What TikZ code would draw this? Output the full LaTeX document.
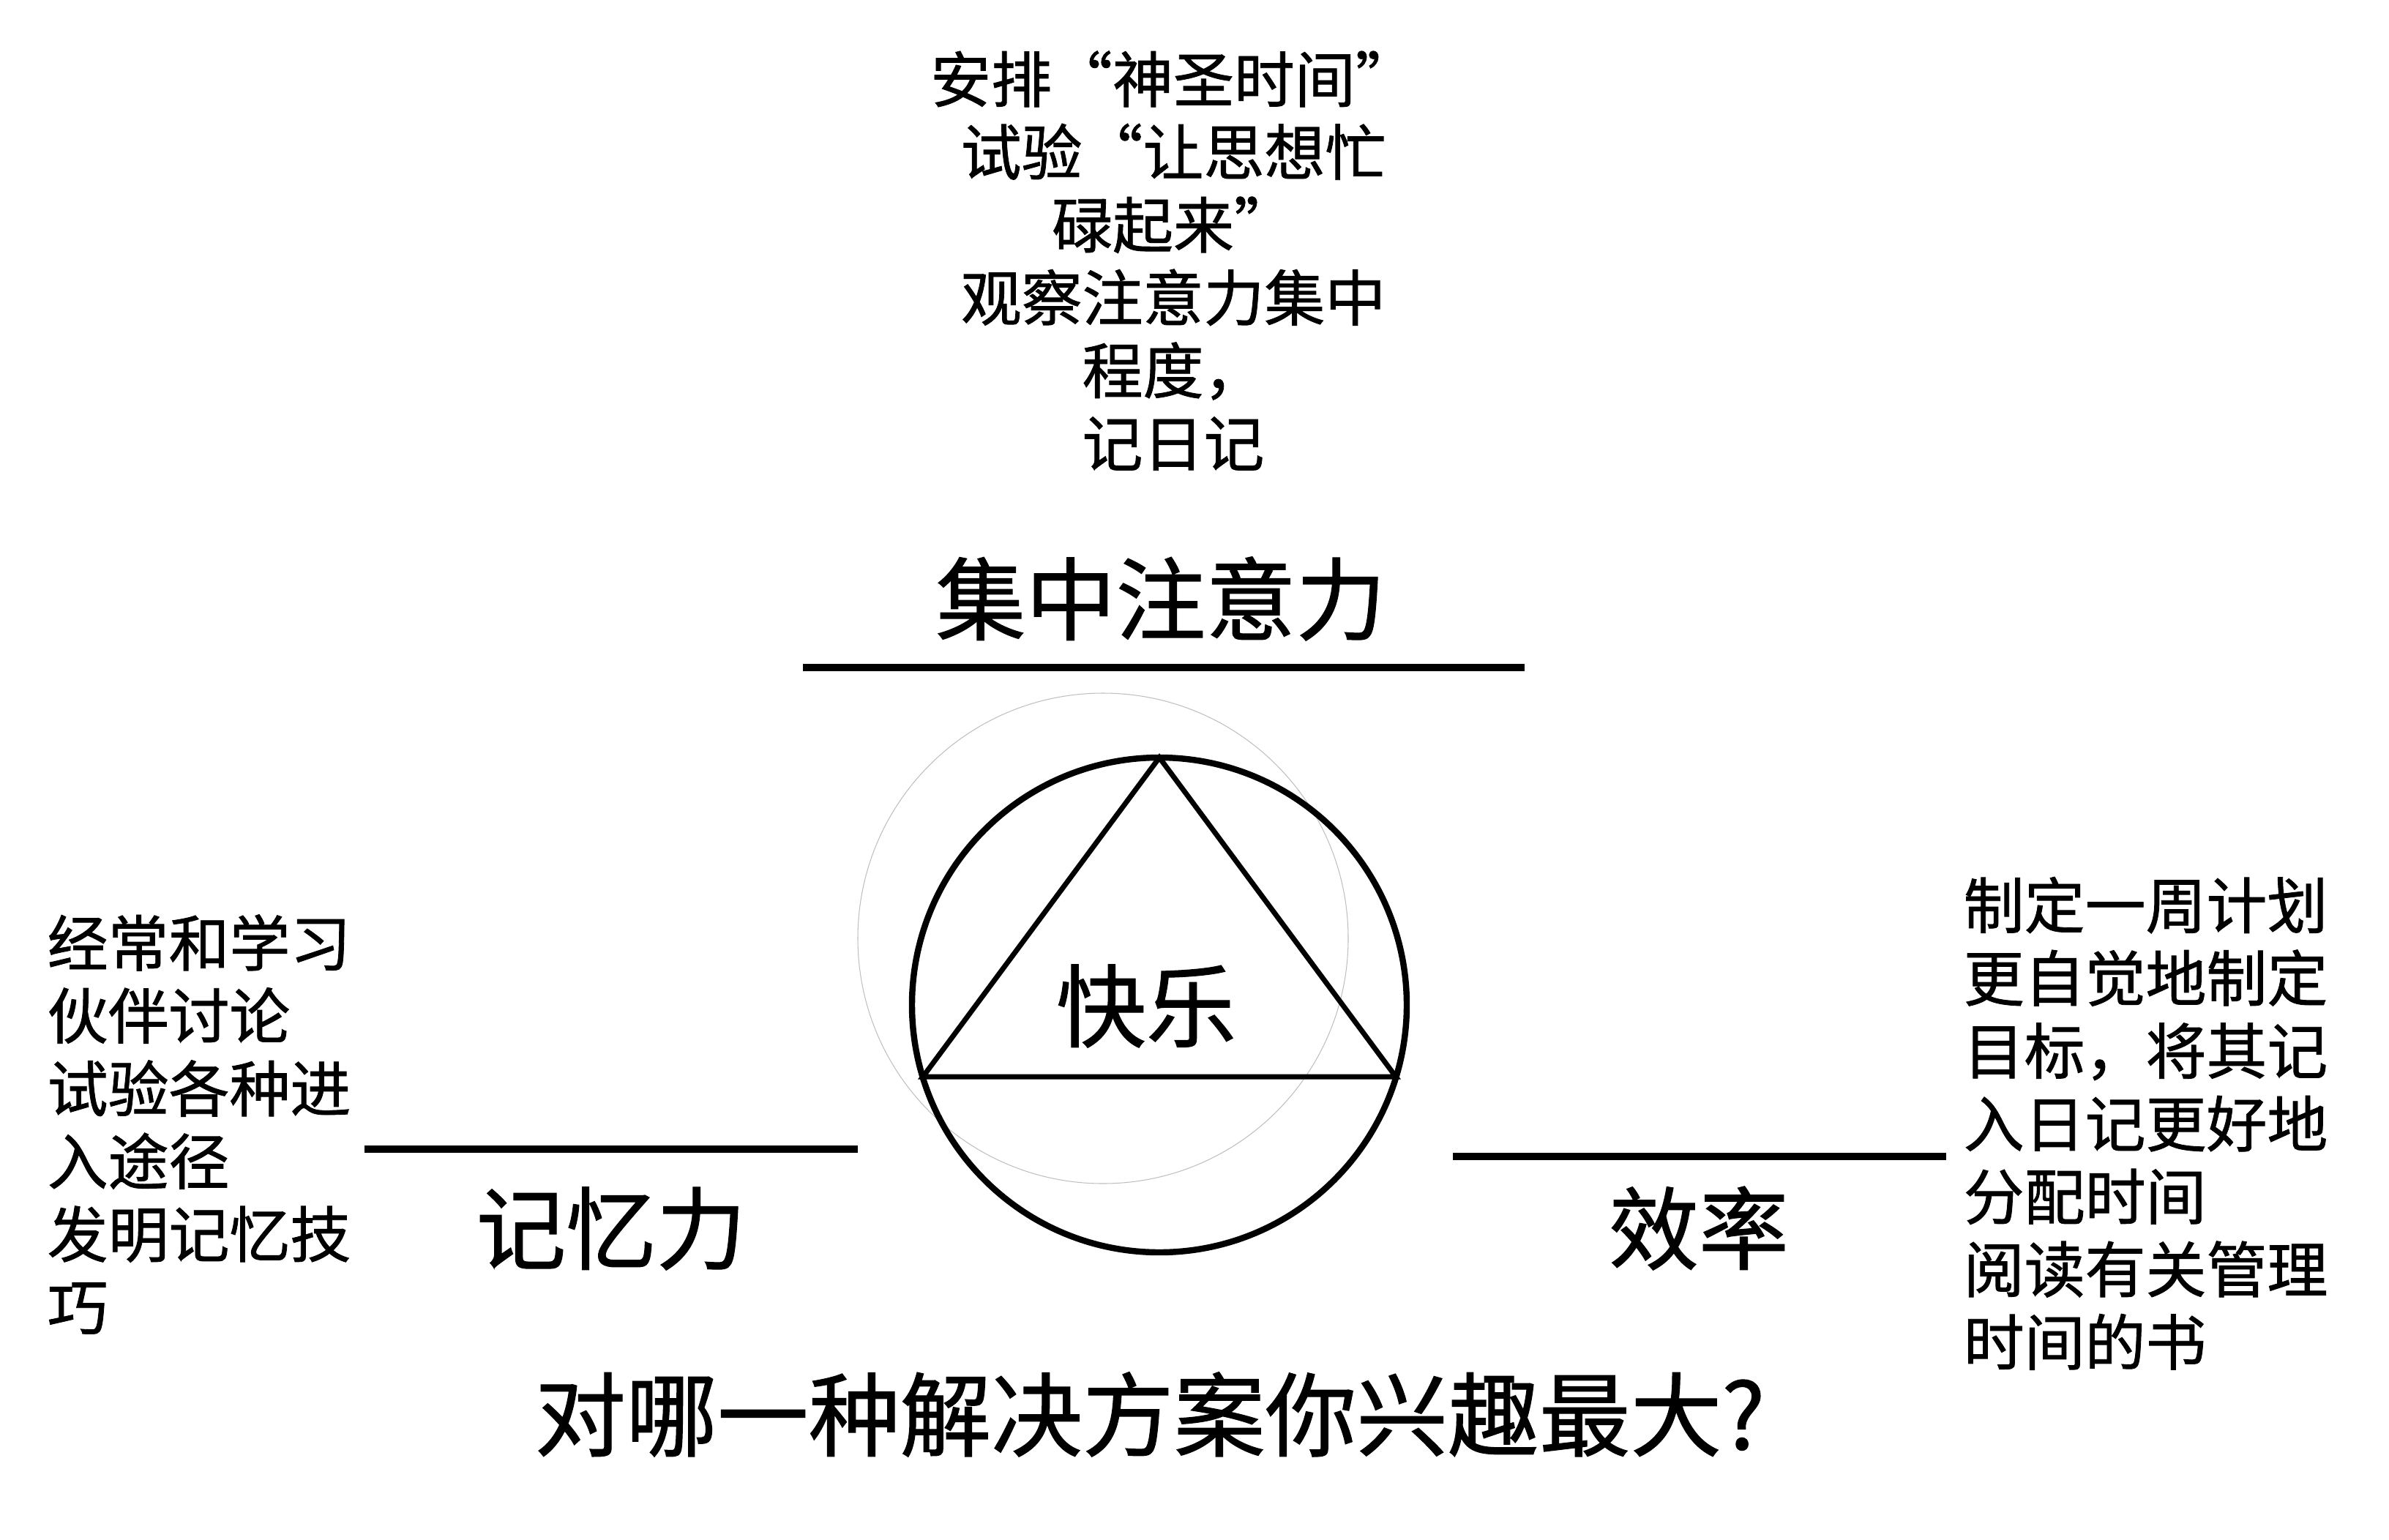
\documentclass[tikz,border=0pt]{standalone}
\usepackage{fontspec}
\setmainfont{Noto Sans CJK SC}[FakeBold=1]
\usetikzlibrary{positioning, calc}
\tikzset{
  notetext/.style = {font=\fontsize{23.6pt}{28.3pt}\selectfont, inner sep=0pt},
  topic/.style = {font=\fontsize{35pt}{42pt}\selectfont, inner sep=0pt},
  barline/.style = {line width=2.85pt},
  ring/.style = {line width=2.4pt},
  tri/.style = {line width=2pt, line join=miter},
}
\begin{document}
\begin{tikzpicture}[x=1cm, y=1cm]
  \useasboundingbox (0,0) rectangle (32.64,-21.04);

  % faint guide circle
  \draw[black!25, line width=0.3pt] (15.07,-12.82) circle (3.35);

  % circle and triangle
  \coordinate (mid) at (15.84,-13.73);
  \draw[ring] (mid) circle (3.38);
  \coordinate (apex) at (15.84,-10.35);
  \coordinate (cornerL) at (12.61,-14.71);
  \coordinate (cornerR) at (19.07,-14.71);
  \draw[tri] (apex) -- (cornerR) -- (cornerL) -- cycle;
  \node[topic, anchor=base] (joy) at (15.66,-14.21) {快乐};

  % the three headings
  \coordinate (focusL) at (10.97,-9.12);
  \coordinate (focusR) at (20.83,-9.12);
  \draw[barline] (focusL) -- (focusR);
  \node[topic, anchor=base] (focus) at (15.86,-8.65) {集中注意力};

  \coordinate (memoryL) at (4.98,-15.70);
  \coordinate (memoryR) at (11.72,-15.70);
  \draw[barline] (memoryL) -- (memoryR);
  \node[topic, anchor=base] (memory) at (8.35,-17.25) {记忆力};

  \coordinate (speedL) at (19.85,-15.80);
  \coordinate (speedR) at (26.59,-15.80);
  \draw[barline] (speedL) -- (speedR);
  \node[topic, anchor=base] (speed) at (23.21,-17.25) {效率};

  % notes (base = last line)
  \node[notetext, anchor=base, align=center] (focusnote) at (16.03,-6.37)
    {安排“神圣时间”\\试验“让思想忙\\碌起来”\\观察注意力集中\\程度，\\记日记};
  \node[notetext, anchor=base west, align=left] (memorynote) at (0.64,-18.17)
    {经常和学习\\伙伴讨论\\试验各种进\\入途径\\发明记忆技\\巧};
  \node[notetext, anchor=base west, align=left] (speednote) at (26.82,-18.65)
    {制定一周计划\\更自觉地制定\\目标，将其记\\入日记更好地\\分配时间\\阅读有关管理\\时间的书};

  % question
  \node[topic, anchor=base, font=\fontsize{35.5pt}{42pt}\selectfont] (ask) at (15.71,-19.80)
    {对哪一种解决方案你兴趣最大?};
\end{tikzpicture}
\end{document}
